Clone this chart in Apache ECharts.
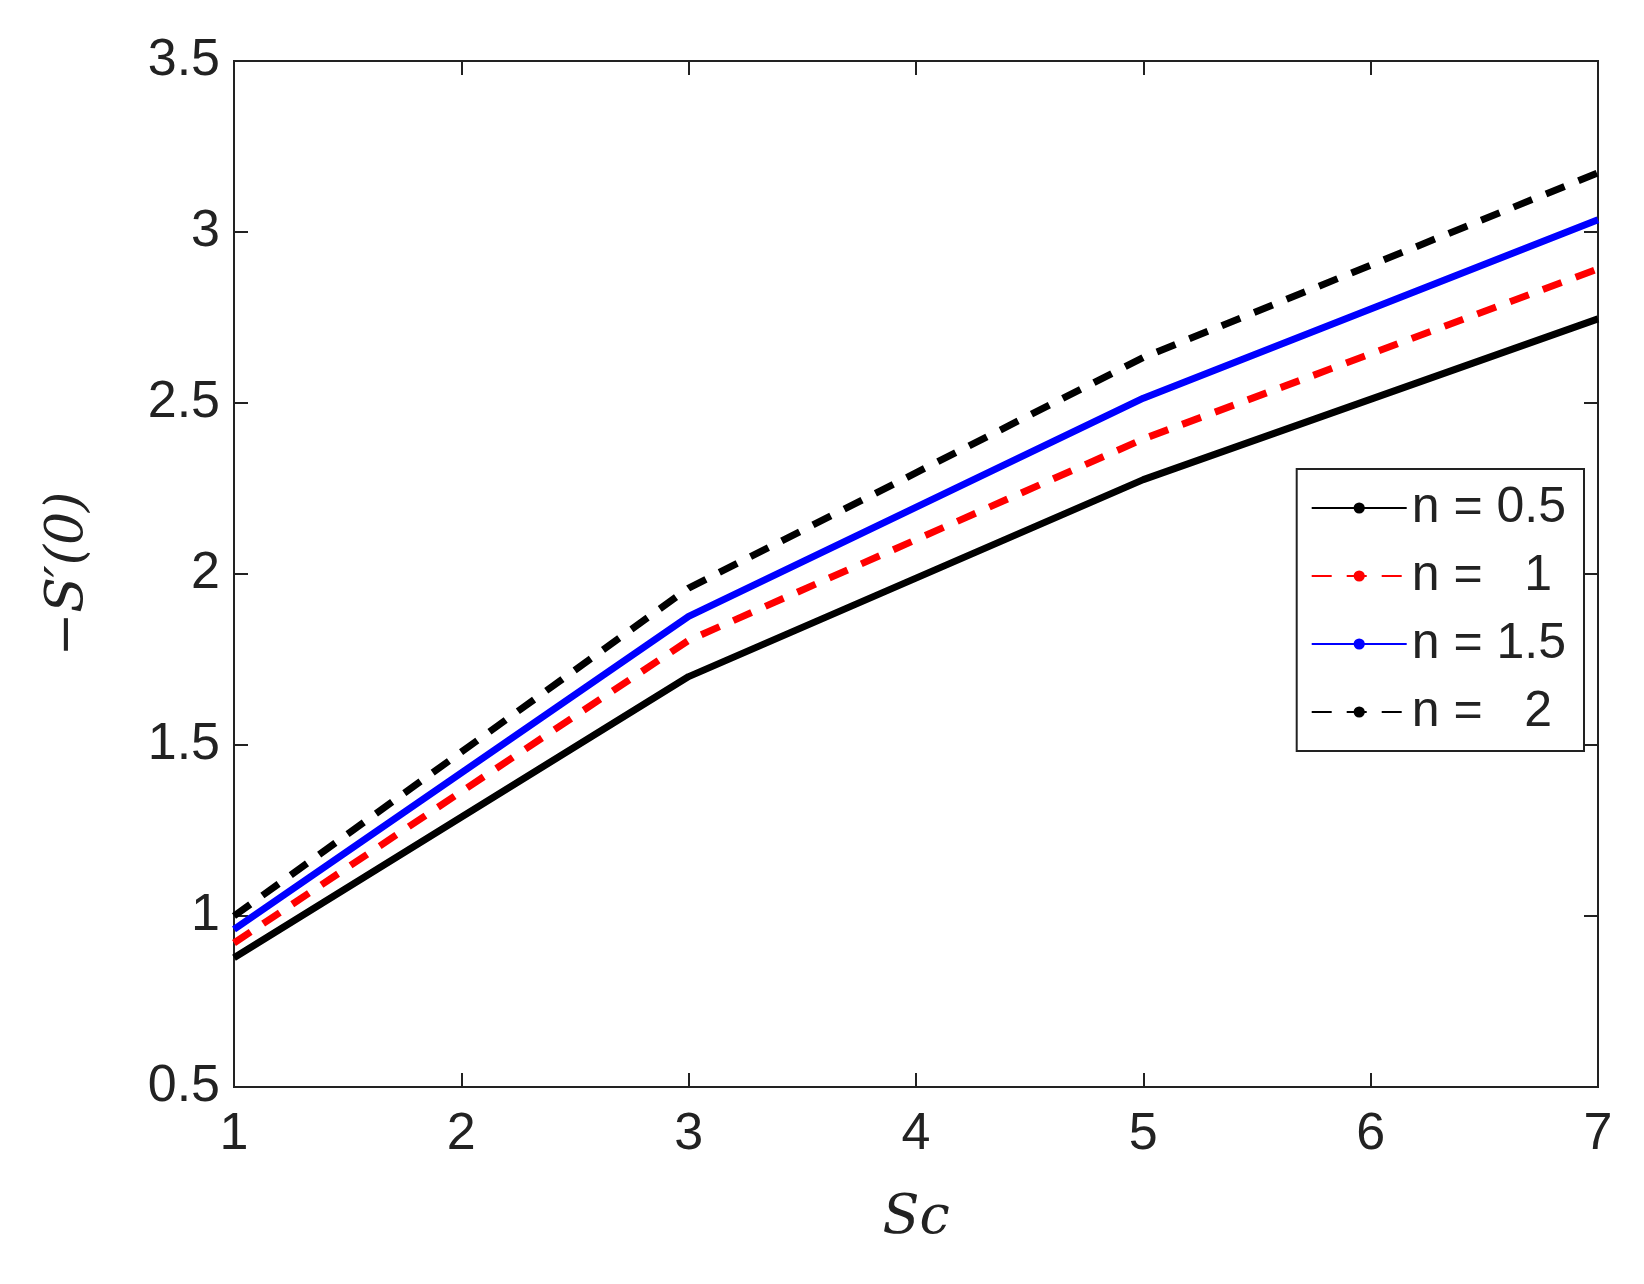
<!DOCTYPE html>
<html><head><meta charset="utf-8">
<script src="https://cdn.jsdelivr.net/npm/echarts@6/dist/echarts.min.js"></script>
<style>html,body{margin:0;background:#fff}#c{width:1644px;height:1284px}</style>
</head><body><div id="c"></div>
<script>
const xs = [1, 3, 5, 7];
const n05 = [0.878, 1.70, 2.276, 2.746];
const n1 = [0.921, 1.806, 2.395, 2.892];
const n15 = [0.961, 1.876, 2.514, 3.036];
const n2 = [1.0, 1.959, 2.633, 3.173];
const names = ['n = 0.5', 'n =   1', 'n = 1.5', 'n =   2'];
const pair = a => xs.map((x, i) => [x, a[i]]);
const chart = echarts.init(document.getElementById('c'));
const lab = {fontFamily: 'Liberation Sans, Arial', fontSize: 52, color: '#222'};
const mk = (name, d, color, type) => ({name, type: 'line', data: pair(d), showSymbol: false, symbol: 'none',
  lineStyle: {color, width: 7, type: type === 'dashed' ? [20, 15] : 'solid'}, itemStyle: {color}});
chart.setOption({
  animation: false,
  grid: {left: 234, right: 46, top: 61, bottom: 197, show: true, borderColor: '#222', borderWidth: 2},
  legend: {orient: 'vertical', right: 60, top: 469, itemWidth: 95, itemHeight: 14, itemGap: 18,
    borderColor: '#222', borderWidth: 2, padding: [14, 18, 14, 14], backgroundColor: '#fff',
    textStyle: {fontFamily: 'Liberation Sans, Arial', fontSize: 50, color: '#222'},
    data: names},
  xAxis: [{type: 'value', min: 1, max: 7, interval: 1,
    axisLine: {lineStyle: {color: '#222', width: 2}}, axisTick: {inside: true, length: 14, lineStyle: {color: '#222', width: 2}},
    axisLabel: Object.assign({margin: 22}, lab), splitLine: {show: false},
    name: 'Sc', nameLocation: 'middle', nameGap: 105,
    nameTextStyle: {fontFamily: 'DejaVu Serif', fontStyle: 'italic', fontSize: 54, color: '#222'}},
   {type: 'value', min: 1, max: 7, interval: 1, position: 'top', axisLine: {lineStyle: {color: '#222', width: 2}},
    axisTick: {inside: true, length: 14, lineStyle: {color: '#222', width: 2}}, axisLabel: {show: false}, splitLine: {show: false}}],
  yAxis: [{type: 'value', min: 0.5, max: 3.5, interval: 0.5,
    axisLine: {show: true, lineStyle: {color: '#222', width: 2}}, axisTick: {show: true, inside: true, length: 14, lineStyle: {color: '#222', width: 2}},
    axisLabel: Object.assign({margin: 14}, lab), splitLine: {show: false},
    name: '−S′(0)', nameLocation: 'middle', nameGap: 140,
    nameTextStyle: {fontFamily: 'DejaVu Serif', fontStyle: 'italic', fontSize: 52, color: '#222'}},
   {type: 'value', min: 0.5, max: 3.5, interval: 0.5, position: 'right',
    axisLine: {show: true, lineStyle: {color: '#222', width: 2}}, axisTick: {show: true, inside: true, length: 14, lineStyle: {color: '#222', width: 2}},
    axisLabel: {show: false}, splitLine: {show: false}}],
  series: [mk(names[0], n05, '#000', 'solid'), mk(names[1], n1, '#ff0000', 'dashed'),
    mk(names[2], n15, '#0000ff', 'solid'), mk(names[3], n2, '#000', 'dashed')]
});
</script></body></html>
